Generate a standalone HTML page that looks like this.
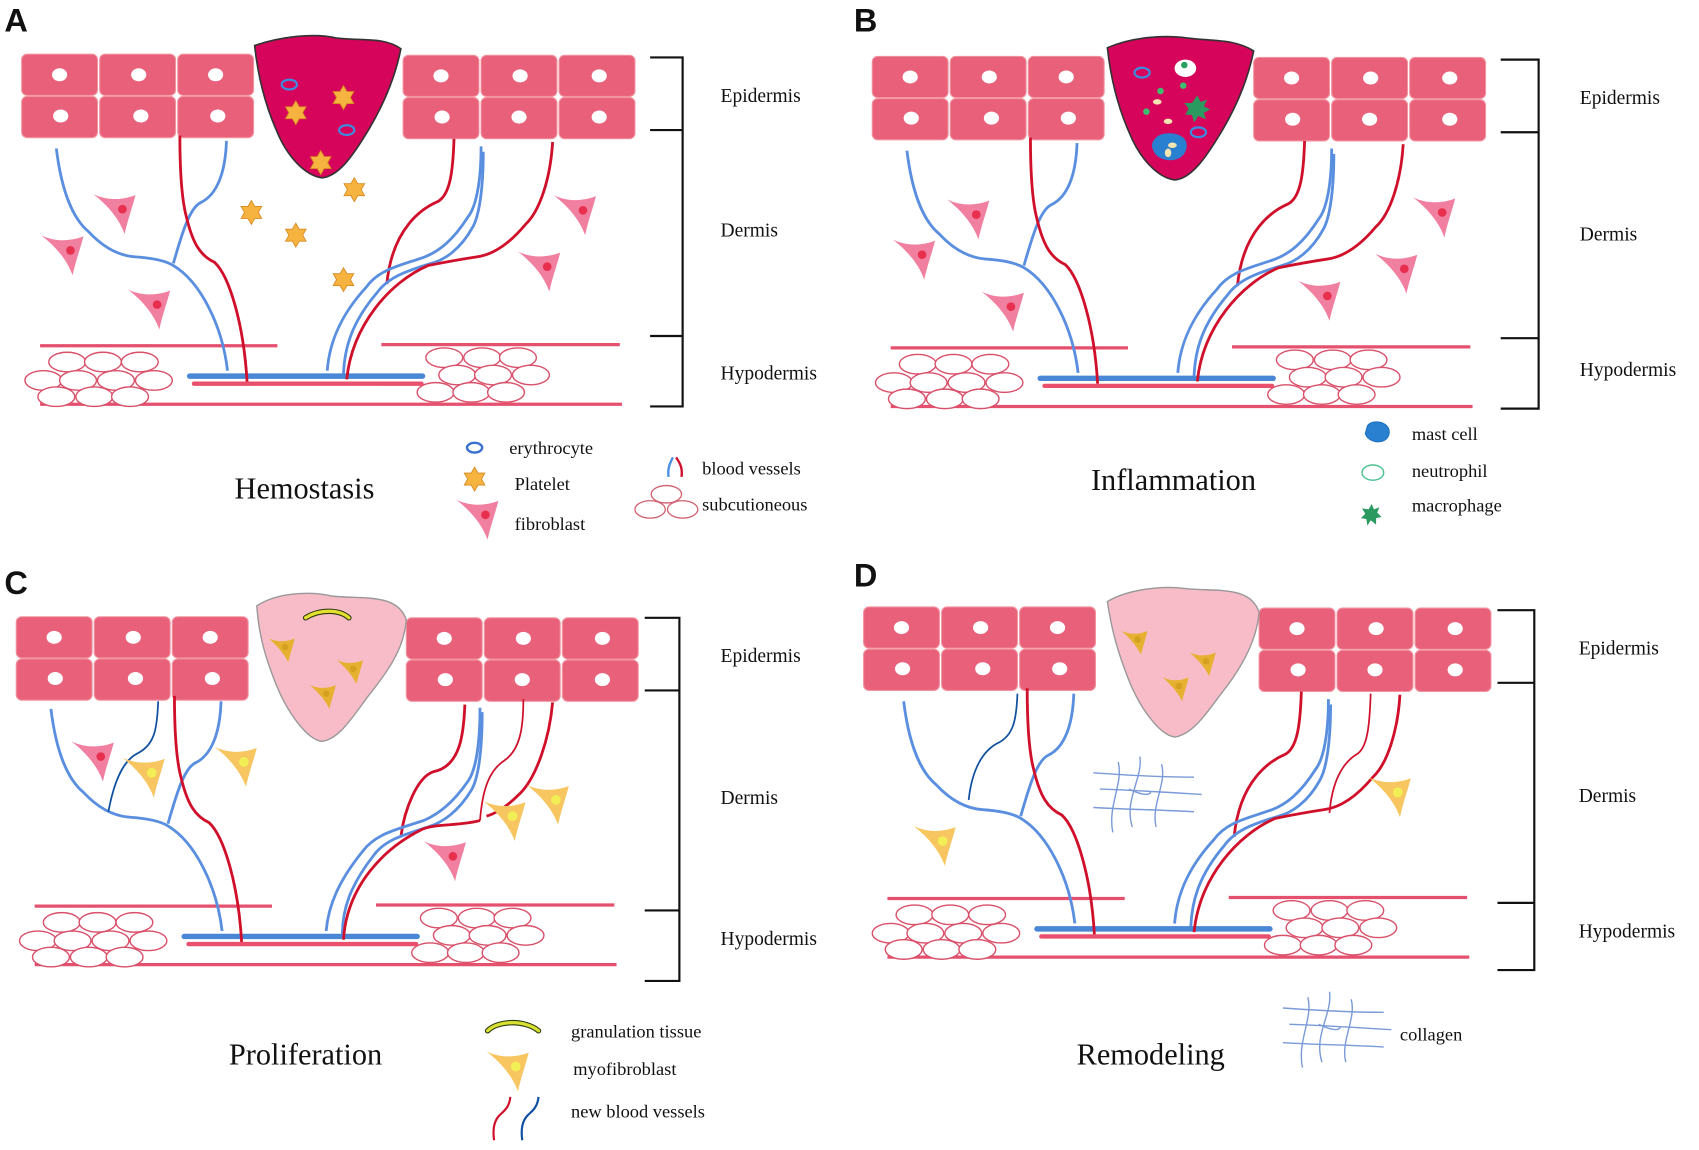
<!DOCTYPE html>
<html><head><meta charset="utf-8"><style>
html,body{margin:0;padding:0;background:#fff;}
svg{display:block;}
text{font-family:"Liberation Serif",serif;fill:#111;}
.lbl{font-family:"Liberation Sans",sans-serif;font-weight:bold;font-size:30px;}
</style></head><body>
<svg width="1699" height="1150" viewBox="0 0 1568 1061" preserveAspectRatio="none" xmlns="http://www.w3.org/2000/svg">
<defs>
<g id="cellsL">
 <g fill="#e8607a" stroke="#f2939f" stroke-width="1">
  <rect x="20" y="50" width="70" height="38" rx="5"/><rect x="92" y="50" width="70" height="38" rx="5"/><rect x="164" y="50" width="70" height="38" rx="5"/>
  <rect x="20" y="89" width="70" height="38" rx="5"/><rect x="92" y="89" width="70" height="38" rx="5"/><rect x="164" y="89" width="70" height="38" rx="5"/>
 </g>
 <g fill="#fff">
  <ellipse cx="55" cy="69" rx="7" ry="6"/><ellipse cx="128" cy="69" rx="7" ry="6"/><ellipse cx="199" cy="69" rx="7" ry="6"/>
  <ellipse cx="56" cy="107" rx="7" ry="6"/><ellipse cx="130" cy="107" rx="7" ry="6"/><ellipse cx="201" cy="107" rx="7" ry="6"/>
 </g>
</g>
<g id="cellsR">
 <g fill="#e8607a" stroke="#f2939f" stroke-width="1">
  <rect x="372" y="51" width="70" height="38" rx="5"/><rect x="444" y="51" width="70" height="38" rx="5"/><rect x="516" y="51" width="70" height="38" rx="5"/>
  <rect x="372" y="90" width="70" height="38" rx="5"/><rect x="444" y="90" width="70" height="38" rx="5"/><rect x="516" y="90" width="70" height="38" rx="5"/>
 </g>
 <g fill="#fff">
  <ellipse cx="407" cy="70" rx="7" ry="6"/><ellipse cx="480" cy="70" rx="7" ry="6"/><ellipse cx="553" cy="70" rx="7" ry="6"/>
  <ellipse cx="408" cy="108" rx="7" ry="6"/><ellipse cx="479" cy="108" rx="7" ry="6"/><ellipse cx="553" cy="108" rx="7" ry="6"/>
 </g>
</g>
<g id="cells"><use href="#cellsL"/><use href="#cellsR"/></g>
<g id="hypo">
 <g stroke="#e5506f" stroke-width="3" fill="none">
  <line x1="37" y1="319" x2="256" y2="319"/><line x1="352" y1="318" x2="572" y2="318"/>
  <line x1="37" y1="373" x2="574" y2="373"/>
 </g>
 <g stroke="#d9506a" stroke-width="1.3" fill="#fff">
  <ellipse cx="62" cy="334" rx="17" ry="9"/><ellipse cx="95" cy="334" rx="17" ry="9"/><ellipse cx="129" cy="334" rx="17" ry="9"/>
  <ellipse cx="40" cy="351" rx="17" ry="9"/><ellipse cx="72" cy="351" rx="17" ry="9"/><ellipse cx="107" cy="351" rx="17" ry="9"/><ellipse cx="142" cy="351" rx="17" ry="9"/>
  <ellipse cx="52" cy="366" rx="17" ry="9"/><ellipse cx="87" cy="366" rx="17" ry="9"/><ellipse cx="120" cy="366" rx="17" ry="9"/>
  <ellipse cx="410" cy="330" rx="17" ry="9"/><ellipse cx="445" cy="330" rx="17" ry="9"/><ellipse cx="478" cy="330" rx="17" ry="9"/>
  <ellipse cx="422" cy="346" rx="17" ry="9"/><ellipse cx="455" cy="346" rx="17" ry="9"/><ellipse cx="490" cy="346" rx="17" ry="9"/>
  <ellipse cx="402" cy="362" rx="17" ry="9"/><ellipse cx="435" cy="362" rx="17" ry="9"/><ellipse cx="467" cy="362" rx="17" ry="9"/>
 </g>
 <line x1="175" y1="347" x2="390" y2="347" stroke="#4a86d6" stroke-width="5" stroke-linecap="round"/>
 <line x1="179" y1="354" x2="389" y2="354" stroke="#e8506e" stroke-width="4" stroke-linecap="round"/>
</g>
<g id="vessels" fill="none" stroke-width="2.6">
 <path d="M52,137 C56,170 65,200 82,214 C95,228 110,236 125,237 C140,238 152,240 160,245 C185,260 205,300 210,342" stroke="#5a8fe0"/>
 <path d="M209,130 C208,160 200,180 185,187 C175,192 168,215 160,243" stroke="#5a8fe0"/>
 <path d="M166,125 C166,160 168,185 172,200 C178,225 185,236 198,242 C212,255 225,300 228,352" stroke="#d0102a"/>
 <path d="M419,128 C418,160 415,180 404,186 C390,192 362,210 357,262" stroke="#d0102a"/>
 <path d="M444,135 C444,165 440,190 432,200 C418,222 405,232 392,237 C370,245 350,248 338,265 C315,290 304,315 302,342" stroke="#5a8fe0"/>
 <path d="M446,140 C446,175 442,200 436,210 C425,230 410,240 398,243 C375,250 358,256 348,270 C325,297 318,320 317,345" stroke="#5a8fe0"/>
 <path d="M510,131 C508,165 498,195 485,207 C470,225 455,235 440,237 C420,240 405,243 395,245 C360,260 325,300 320,350" stroke="#d0102a"/>
</g>
<g id="bracket" stroke="#111" stroke-width="2" fill="none">
 <path d="M600,53 H630 V375 H600 M600,120 H630 M600,310 H630"/>
</g>
<g id="fib">
 <path d="M-24,-13 C-10,-6 5,-8 15,-12 C12,0 8,10 5,24 C0,10 -10,-2 -24,-13Z" fill="#f07fa0"/>
 <circle cx="3" cy="1" r="4" fill="#e8304e"/>
</g>
<g id="myo">
 <path d="M-24,-13 C-10,-6 5,-8 15,-12 C12,0 8,10 5,24 C0,10 -10,-2 -24,-13Z" fill="#f7c660"/>
 <circle cx="3" cy="1" r="4.5" fill="#f2ee55"/>
</g>
<g id="myos">
 <path d="M-14,-8 C-6,-4 4,-5 10,-8 C8,0 6,6 4,14 C0,6 -6,-1 -14,-8Z" fill="#e6b030"/>
 <circle cx="1" cy="0" r="3" fill="#d4a020"/>
</g>
<polygon id="star" points="0,-11 3.2,-5.5 9.5,-5.5 6.4,0 9.5,5.5 3.2,5.5 0,11 -3.2,5.5 -9.5,5.5 -6.4,0 -9.5,-5.5 -3.2,-5.5" fill="#f7b340" stroke="#d68a20" stroke-width="0.8"/>
<g id="coll" fill="none" stroke="#7a9ad8" stroke-width="1.3">
 <path d="M-48,-20 C-20,-18 10,-16 45,-16"/><path d="M-42,-5 C-10,-4 20,-2 52,0"/><path d="M-48,12 C-15,14 15,14 45,16"/>
 <path d="M-25,-30 C-20,-10 -35,10 -30,35"/><path d="M-5,-35 C-2,-15 -20,5 -12,30"/><path d="M15,-28 C20,-10 5,10 10,30"/><path d="M-15,-5 C-5,0 5,2 5,-3"/>
</g>
</defs>

<!-- Panel A -->
<text class="lbl" x="4" y="29">A</text>
<g>
 <use href="#cells"/><use href="#hypo"/><use href="#vessels"/><use href="#bracket"/>
 <path d="M235,42 C258,34 290,30 310,35 C335,38 355,34 370,45 C365,70 355,95 340,120 C325,145 312,163 297,164 C282,162 265,145 255,120 C244,95 238,70 235,42Z" fill="#d6045a" stroke="#333" stroke-width="1.5"/>
 <ellipse cx="267" cy="78" rx="7" ry="4.5" fill="none" stroke="#3a8ee0" stroke-width="2"/>
 <ellipse cx="320" cy="120" rx="7" ry="4.5" fill="none" stroke="#3a8ee0" stroke-width="2"/>
 <use href="#star" x="273" y="104"/><use href="#star" x="317" y="90"/><use href="#star" x="296" y="150"/>
 <use href="#star" x="232" y="196"/><use href="#star" x="273" y="217"/><use href="#star" x="327" y="175"/><use href="#star" x="317" y="258"/>
 <use href="#fib" x="110" y="192"/><use href="#fib" x="62" y="230"/><use href="#fib" x="142" y="280"/><use href="#fib" x="535" y="193"/><use href="#fib" x="502" y="245"/>
 <text x="665" y="94" font-size="18">Epidermis</text><text x="665" y="218" font-size="18">Dermis</text><text x="665" y="350" font-size="18">Hypodermis</text>
 <text x="281" y="460" font-size="28" text-anchor="middle">Hemostasis</text>
 <ellipse cx="438" cy="413" rx="7" ry="4.5" fill="none" stroke="#3a70d0" stroke-width="2.2"/>
 <text x="470" y="419" font-size="17">erythrocyte</text>
 <use href="#star" x="438" y="442"/>
 <text x="475" y="452" font-size="17">Platelet</text>
 <use href="#fib" x="445" y="474"/>
 <text x="475" y="489" font-size="17">fibroblast</text>
 <path d="M621,422 C618,428 616,432 617,440" stroke="#4a8fe0" stroke-width="2.2" fill="none"/>
 <path d="M624,422 C628,428 630,432 629,440" stroke="#d0102a" stroke-width="2.2" fill="none"/>
 <text x="648" y="438" font-size="17">blood vessels</text>
 <g fill="none" stroke="#d06070" stroke-width="1.2"><ellipse cx="615" cy="456" rx="14" ry="8"/><ellipse cx="600" cy="470" rx="14" ry="8"/><ellipse cx="630" cy="470" rx="14" ry="8"/></g>
 <text x="648" y="471" font-size="17">subcutioneous</text>
</g>

<!-- Panel B -->
<text class="lbl" x="788" y="29">B</text>
<g transform="translate(785,2)">
 <use href="#cells"/><use href="#hypo"/><use href="#vessels"/>
 <path d="M600,53 H635 V375 H600 M600,120 H635 M600,310 H635" stroke="#111" stroke-width="2" fill="none"/>
 <path d="M237,42 C260,32 290,30 310,33 C335,36 355,34 372,45 C367,70 357,95 342,120 C327,145 314,163 299,164 C284,162 267,145 257,120 C246,95 240,70 237,42Z" fill="#d6045a" stroke="#333" stroke-width="1.5"/>
 <use href="#fib" x="113" y="195"/><use href="#fib" x="63" y="232"/><use href="#fib" x="145" y="280"/><use href="#fib" x="543" y="193"/><use href="#fib" x="508" y="245"/><use href="#fib" x="437" y="270"/>
 <text x="673" y="94" font-size="18">Epidermis</text><text x="673" y="220" font-size="18">Dermis</text><text x="673" y="345" font-size="18">Hypodermis</text>
 <text x="298" y="450" font-size="28" text-anchor="middle">Inflammation</text>
</g>
<ellipse cx="1054" cy="67" rx="7" ry="4.5" fill="none" stroke="#3a8ee0" stroke-width="2"/>
<ellipse cx="1106" cy="122" rx="7" ry="4.5" fill="none" stroke="#3a8ee0" stroke-width="2"/>
<ellipse cx="1094" cy="63" rx="10" ry="8" fill="#fff"/><circle cx="1093" cy="60" r="3" fill="#2aa060"/>
<circle cx="1071" cy="84" r="3" fill="#3cc070"/><circle cx="1092" cy="79" r="3" fill="#3cc070"/><circle cx="1058" cy="103" r="3" fill="#3cc070"/>
<ellipse cx="1068" cy="94" rx="4" ry="2.5" fill="#f5e5b0"/><ellipse cx="1078" cy="112" rx="4" ry="2.5" fill="#f5e5b0"/>
<polygon points="1105,88 1108,94 1114,92 1111,98 1117,101 1111,104 1113,110 1106,107 1102,113 1100,106 1094,106 1097,100 1093,95 1100,95" fill="#2a9a60"/>
<path d="M1066,128 C1070,122 1085,121 1092,127 C1098,132 1095,143 1088,146 C1080,150 1068,147 1065,140 C1062,135 1063,131 1066,128Z" fill="#2a80d0"/>
<ellipse cx="1082" cy="134" rx="4" ry="2.5" fill="#f5e5b0"/><ellipse cx="1078" cy="141" rx="3" ry="4" fill="#f5e5b0"/>
<path d="M1262,393 C1265,388 1275,388 1280,393 C1284,398 1282,405 1276,407 C1270,409 1262,406 1260,400Z" fill="#2a80d0" stroke="#1a70c0" stroke-width="1"/>
<text x="1303" y="406" font-size="17">mast cell</text>
<ellipse cx="1267" cy="436" rx="10" ry="7" fill="none" stroke="#4ac090" stroke-width="1.3"/>
<text x="1303" y="440" font-size="17">neutrophil</text>
<polygon points="1266,465 1268,470 1273,468 1271,473 1275,477 1270,478 1270,484 1265,480 1262,485 1261,479 1256,478 1260,474 1257,469 1263,470" fill="#2a9a60"/>
<text x="1303" y="472" font-size="17">macrophage</text>

<!-- Panel C -->
<text class="lbl" x="4" y="548">C</text>
<g transform="translate(-5,517)">
 <use href="#cellsL" transform="translate(0,2)"/><use href="#cellsR" transform="translate(8,2)"/><use href="#hypo"/>
 <path d="M52,137 C56,170 65,200 82,214 C95,228 110,236 125,237 C140,238 152,240 160,245 C185,260 205,300 210,342" stroke="#5a8fe0" stroke-width="2.6" fill="none"/>
 <path d="M209,130 C208,160 200,180 185,187 C175,192 168,215 160,243" stroke="#5a8fe0" stroke-width="2.6" fill="none"/>
 <path d="M166,125 C166,160 168,185 172,200 C178,225 185,236 198,242 C212,255 225,300 228,352" stroke="#d0102a" stroke-width="2.6" fill="none"/>
 <path d="M151,130 C150,155 148,170 132,178 C118,185 110,205 105,232" stroke="#1050a0" stroke-width="1.6" fill="none"/>
 <path d="M434,133 C433,160 430,190 405,195 C390,200 378,230 375,255" stroke="#d0102a" stroke-width="2.6" fill="none"/>
 <path d="M448,136 C448,170 444,195 436,205 C422,225 408,235 396,240 C372,248 352,252 340,268 C318,295 308,318 306,342" stroke="#5a8fe0" stroke-width="2.6" fill="none"/>
 <path d="M450,140 C450,178 446,202 440,212 C428,232 413,242 400,246 C378,253 360,258 350,272 C328,300 321,322 321,345" stroke="#5a8fe0" stroke-width="2.6" fill="none"/>
 <path d="M488,128 C488,155 485,175 470,185 C455,195 450,215 448,240" stroke="#d0102a" stroke-width="1.6" fill="none"/>
 <path d="M515,131 C512,165 500,200 485,215 C475,225 465,233 454,236" stroke="#d0102a" stroke-width="2.6" fill="none"/>
 <path d="M448,240 C430,245 405,243 395,248 C360,265 325,300 322,350" stroke="#d0102a" stroke-width="2.6" fill="none"/>
 <path d="M600,53 H632 V388 H600 M600,120 H632 M600,323 H632" stroke="#111" stroke-width="2" fill="none"/>
 <path d="M242,42 C260,30 290,28 312,33 C340,36 372,30 380,55 C378,80 365,100 345,125 C330,145 318,165 302,167 C288,165 270,140 260,115 C250,90 244,70 242,42Z" fill="#f8bcc9" stroke="#999" stroke-width="1.3"/>
 <path d="M287,53 C300,45 318,45 327,53" stroke="#2a3a10" stroke-width="5" fill="none" stroke-linecap="round"/>
 <path d="M287,53 C300,45 318,45 327,53" stroke="#e5e030" stroke-width="3" fill="none" stroke-linecap="round"/>
 <use href="#myos" x="267" y="80"/><use href="#myos" x="330" y="100"/><use href="#myos" x="305" y="123"/>
 <use href="#fib" x="95" y="180"/><use href="#fib" x="420" y="272"/>
 <use href="#myo" x="142" y="195"/><use href="#myo" x="227" y="185"/><use href="#myo" x="475" y="235"/><use href="#myo" x="515" y="220"/>
 <text x="670" y="94" font-size="18">Epidermis</text><text x="670" y="225" font-size="18">Dermis</text><text x="670" y="355" font-size="18">Hypodermis</text>
 <text x="287" y="465" font-size="28" text-anchor="middle">Proliferation</text>
 <path d="M455,434 C465,424 490,424 502,434" stroke="#2a3a10" stroke-width="5" fill="none" stroke-linecap="round"/>
 <path d="M455,434 C465,424 490,424 502,434" stroke="#d8e030" stroke-width="3" fill="none" stroke-linecap="round"/>
 <text x="532" y="440" font-size="17">granulation tissue</text>
 <use href="#myo" x="478" y="466"/>
 <text x="534" y="475" font-size="17">myofibroblast</text>
 <path d="M476,495 C475,505 470,508 466,512 C460,518 460,528 461,535" stroke="#d0102a" stroke-width="2" fill="none"/>
 <path d="M502,495 C501,505 496,508 492,512 C486,518 486,528 487,535" stroke="#1050a0" stroke-width="2" fill="none"/>
 <text x="532" y="514" font-size="17">new blood vessels</text>
</g>

<!-- Panel D -->
<text class="lbl" x="788" y="541">D</text>
<g transform="translate(782,510)">
 <use href="#cellsL" transform="translate(-5,0)"/><use href="#cellsR" transform="translate(8,0)"/><use href="#hypo"/>
 <path d="M52,137 C56,170 65,200 82,214 C95,228 110,236 125,237 C140,238 152,240 160,245 C185,260 205,300 210,342" stroke="#5a8fe0" stroke-width="2.6" fill="none"/>
 <path d="M209,130 C208,160 200,180 185,187 C175,192 168,215 160,243" stroke="#5a8fe0" stroke-width="2.6" fill="none"/>
 <path d="M166,125 C166,160 168,185 172,200 C178,225 185,236 198,242 C212,255 225,300 228,352" stroke="#d0102a" stroke-width="2.6" fill="none"/>
 <path d="M157,130 C156,155 153,168 140,175 C125,182 115,200 112,228" stroke="#1050a0" stroke-width="1.6" fill="none"/>
 <path d="M419,128 C418,160 415,180 404,186 C390,192 362,210 357,262" stroke="#d0102a" stroke-width="2.6" fill="none"/>
 <path d="M444,135 C444,165 440,190 432,200 C418,222 405,232 392,237 C370,245 350,248 338,265 C315,290 304,315 302,342" stroke="#5a8fe0" stroke-width="2.6" fill="none"/>
 <path d="M446,140 C446,175 442,200 436,210 C425,230 410,240 398,243 C375,250 358,256 348,270 C325,297 318,320 317,345" stroke="#5a8fe0" stroke-width="2.6" fill="none"/>
 <path d="M483,130 C482,160 480,180 470,186 C455,195 447,215 445,240" stroke="#d0102a" stroke-width="1.6" fill="none"/>
 <path d="M510,131 C508,165 498,195 485,207 C470,225 455,235 440,237 C420,240 405,243 395,245 C360,260 325,300 320,350" stroke="#d0102a" stroke-width="2.6" fill="none"/>
 <path d="M600,53 H634 V385 H600 M600,120 H634 M600,323 H634" stroke="#111" stroke-width="2" fill="none"/>
 <path d="M240,45 C258,34 290,30 312,33 C340,36 372,30 380,55 C378,80 365,105 345,130 C330,150 318,168 302,170 C288,168 270,143 260,118 C250,93 244,72 240,45Z" fill="#f8bcc9" stroke="#999" stroke-width="1.3"/>
 <use href="#myos" x="267" y="80"/><use href="#myos" x="330" y="100"/><use href="#myos" x="305" y="123"/>
 <use href="#coll" x="275" y="223"/>
 <use href="#myo" x="85" y="265"/><use href="#myo" x="505" y="220"/>
 <text x="675" y="94" font-size="18">Epidermis</text><text x="675" y="230" font-size="18">Dermis</text><text x="675" y="355" font-size="18">Hypodermis</text>
 <text x="280" y="472" font-size="28" text-anchor="middle">Remodeling</text>
 <use href="#coll" x="450" y="440"/>
 <text x="510" y="450" font-size="17">collagen</text>
</g>
</svg>
</body></html>
